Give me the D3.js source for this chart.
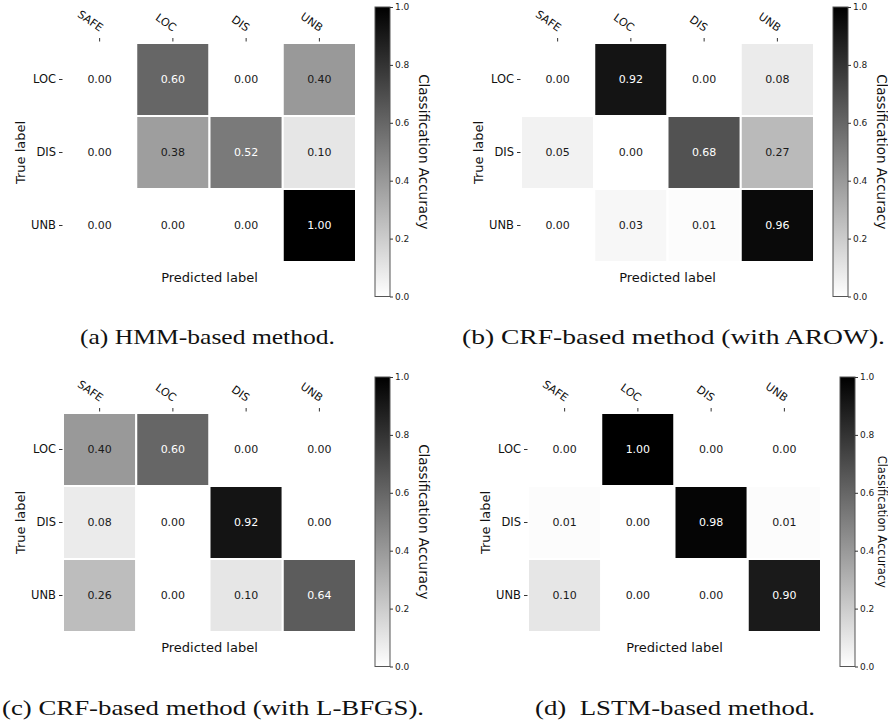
<!DOCTYPE html>
<html><head><meta charset="utf-8">
<script src="https://cdn.jsdelivr.net/npm/d3@7"></script>
<style>body{margin:0;background:#fff}svg{display:block}</style>
</head><body>
<svg id="chart" width="888" height="728"></svg>
<script>
// ---------------- data ----------------
const predLabels = ["SAFE", "LOC", "DIS", "UNB"];
const trueLabels = ["LOC", "DIS", "UNB"];
const hmmValues = [
  [0.00, 0.60, 0.00, 0.40],
  [0.00, 0.38, 0.52, 0.10],
  [0.00, 0.00, 0.00, 1.00]
];
const crfArowValues = [
  [0.00, 0.92, 0.00, 0.08],
  [0.05, 0.00, 0.68, 0.27],
  [0.00, 0.03, 0.01, 0.96]
];
const crfLbfgsValues = [
  [0.40, 0.60, 0.00, 0.00],
  [0.08, 0.00, 0.92, 0.00],
  [0.26, 0.00, 0.10, 0.64]
];
const lstmValues = [
  [0.00, 1.00, 0.00, 0.00],
  [0.01, 0.00, 0.98, 0.01],
  [0.10, 0.00, 0.00, 0.90]
];
const colorbarTicks = [0.0, 0.2, 0.4, 0.6, 0.8, 1.0];
const captions = [
  "(a) HMM-based method.",
  "(b) CRF-based method (with AROW).",
  "(c) CRF-based method (with L-BFGS).",
  "(d)\u00a0\u00a0LSTM-based method."
];
const xAxisTitle = "Predicted label";
const yAxisTitle = "True label";
const colorbarTitle = "Classification Accuracy";

// ---------------- layout ----------------
const panels = [
  { values: hmmValues,      dx: 0,   dy: 0,   cbLabelX: 418.5, cbFont: 13.5, cap: { x: 80,  y: 344, w: 255 } },
  { values: crfArowValues,  dx: 458, dy: 0,   cbLabelX: 418.5, cbFont: 13.5, cap: { x: 462, y: 344, w: 423 } },
  { values: crfLbfgsValues, dx: 0,   dy: 370, cbLabelX: 418.5, cbFont: 13.5, cap: { x: 2,   y: 715, w: 422 } },
  { values: lstmValues,     dx: 465, dy: 370, cbLabelX: 412.5, cbFont: 11.5, cap: { x: 535, y: 715, w: 280 } }
];
const grid = { x0: 63, x1: 356, y0: 43, y1: 262 };
const cbar = { x: 375, w: 15, y0: 7, y1: 296.5 };
const font = "'DejaVu Sans', sans-serif";

const svg = d3.select("#chart");
const defs = svg.append("defs");
const grad = defs.append("linearGradient").attr("id", "greyGrad")
  .attr("x1", 0).attr("y1", 1).attr("x2", 0).attr("y2", 0);
grad.append("stop").attr("offset", "0%").attr("stop-color", "#ffffff");
grad.append("stop").attr("offset", "100%").attr("stop-color", "#000000");

const color = d3.scaleLinear().domain([0, 1]).range(["#ffffff", "#000000"]);
const x = d3.scaleBand().domain(predLabels).range([grid.x0, grid.x1]).padding(0);
const y = d3.scaleBand().domain(trueLabels).range([grid.y0, grid.y1]).padding(0);
const cy = d3.scaleLinear().domain([0, 1]).range([cbar.y1, cbar.y0]);

panels.forEach(p => {
  const g = svg.append("g").attr("transform", `translate(${p.dx},${p.dy})`);
  const cells = [];
  p.values.forEach((row, i) => row.forEach((v, j) => cells.push({ r: trueLabels[i], c: predLabels[j], v })));

  g.selectAll("rect.cell").data(cells).join("rect")
    .attr("class", "cell")
    .attr("x", d => x(d.c)).attr("y", d => y(d.r))
    .attr("width", x.bandwidth()).attr("height", y.bandwidth())
    .attr("fill", d => color(d.v))
    .attr("stroke", "#ffffff").attr("stroke-width", 2);

  g.selectAll("text.val").data(cells).join("text")
    .attr("class", "val")
    .attr("x", d => x(d.c) + x.bandwidth() / 2)
    .attr("y", d => y(d.r) + y.bandwidth() / 2)
    .attr("text-anchor", "middle").attr("dominant-baseline", "central")
    .attr("font-family", font).attr("font-size", 11)
    .attr("fill", d => d.v > 0.5 ? "#ffffff" : "#1a1a1a")
    .text(d => d.v.toFixed(2));

  // top axis (predicted)
  const topAxis = g.append("g").attr("transform", `translate(0,${grid.y0 - 1.5})`)
    .call(d3.axisTop(x).tickSize(3.5).tickPadding(6));
  topAxis.select(".domain").remove();
  topAxis.selectAll(".tick line").attr("stroke", "#333");
  topAxis.selectAll(".tick text")
    .attr("font-family", font).attr("font-size", 11).attr("fill", "#111")
    .attr("text-anchor", "end")
    .attr("x", 0).attr("y", 0).attr("dy", 0)
    .attr("transform", "translate(0,-9.5) rotate(35)");

  // left axis (true)
  const leftAxis = g.append("g").attr("transform", `translate(${grid.x0 - 0.5},0)`)
    .call(d3.axisLeft(y).tickSize(3.5).tickPadding(3));
  leftAxis.select(".domain").remove();
  leftAxis.selectAll(".tick line").attr("stroke", "#333");
  leftAxis.selectAll(".tick text")
    .attr("font-family", font).attr("font-size", 11.5).attr("fill", "#111");

  g.append("text")
    .attr("x", (grid.x0 + grid.x1) / 2).attr("y", 281.5)
    .attr("text-anchor", "middle")
    .attr("font-family", font).attr("font-size", 13).attr("fill", "#111")
    .text(xAxisTitle);

  g.append("text")
    .attr("transform", `translate(24.5,${(grid.y0 + grid.y1) / 2}) rotate(-90)`)
    .attr("text-anchor", "middle")
    .attr("font-family", font).attr("font-size", 13).attr("fill", "#111")
    .text(yAxisTitle);

  // colorbar
  g.append("rect")
    .attr("x", cbar.x).attr("y", cbar.y0)
    .attr("width", cbar.w).attr("height", cbar.y1 - cbar.y0)
    .attr("fill", "url(#greyGrad)")
    .attr("stroke", "#555").attr("stroke-width", 1);
  const cAxis = g.append("g").attr("transform", `translate(${cbar.x + cbar.w},0)`)
    .call(d3.axisRight(cy).tickValues(colorbarTicks).tickFormat(d3.format(".1f")).tickSize(3).tickPadding(2));
  cAxis.select(".domain").remove();
  cAxis.selectAll(".tick line").attr("stroke", "#333");
  cAxis.selectAll(".tick text").attr("font-family", font).attr("font-size", 9).attr("fill", "#222");

  g.append("text")
    .attr("transform", `translate(${p.cbLabelX},${(cbar.y0 + cbar.y1) / 2}) rotate(90)`)
    .attr("text-anchor", "middle")
    .attr("font-family", font).attr("font-size", p.cbFont).attr("fill", "#111")
    .text(colorbarTitle);
});

// captions
svg.selectAll("text.cap").data(panels).join("text")
  .attr("class", "cap")
  .attr("x", d => d.cap.x).attr("y", d => d.cap.y)
  .attr("font-family", "'Liberation Serif', serif").attr("font-size", 21.5)
  .attr("fill", "#111")
  .attr("textLength", d => d.cap.w).attr("lengthAdjust", "spacingAndGlyphs")
  .text((d, i) => captions[i]);
</script>
</body></html>
